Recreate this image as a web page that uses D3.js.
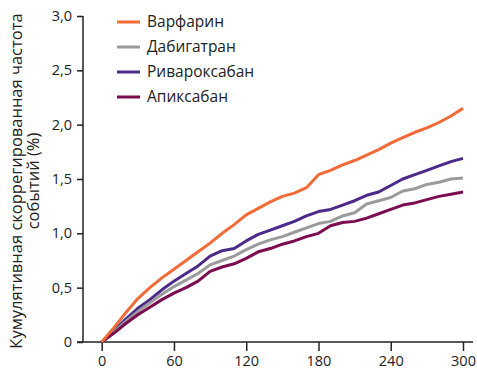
<!DOCTYPE html>
<html>
<head>
<meta charset="utf-8">
<script src="https://cdn.jsdelivr.net/npm/d3@7"></script>
<style>
  body { margin: 0; background: #fff; }
  svg text { font-family: "Open Sans", "Noto Sans", sans-serif; fill: #222; }
</style>
</head>
<body>
<div class="chart"></div>
<script>

// days, read every 10 days off the picture
const days = d3.range(0, 301, 10);

const warfarin = [0, 0.13, 0.27, 0.40, 0.50, 0.59, 0.67, 0.75, 0.83, 0.91, 1.00,
  1.08, 1.17, 1.23, 1.29, 1.34, 1.37, 1.42, 1.54, 1.58, 1.63,
  1.67, 1.72, 1.77, 1.83, 1.88, 1.93, 1.97, 2.02, 2.08, 2.15];
const dabigatran = [0, 0.09, 0.19, 0.28, 0.36, 0.44, 0.51, 0.57, 0.63, 0.71, 0.75,
  0.79, 0.85, 0.90, 0.94, 0.97, 1.01, 1.05, 1.09, 1.11, 1.16,
  1.19, 1.27, 1.30, 1.33, 1.39, 1.41, 1.45, 1.47, 1.50, 1.51];
const rivaroxaban = [0, 0.10, 0.21, 0.31, 0.39, 0.48, 0.56, 0.63, 0.70, 0.79, 0.84,
  0.86, 0.93, 0.99, 1.03, 1.07, 1.11, 1.16, 1.20, 1.22, 1.26,
  1.30, 1.35, 1.38, 1.44, 1.50, 1.54, 1.58, 1.62, 1.66, 1.69];
const apixaban = [0, 0.08, 0.17, 0.25, 0.32, 0.39, 0.45, 0.50, 0.56, 0.65, 0.69,
  0.72, 0.77, 0.83, 0.86, 0.90, 0.93, 0.97, 1.00, 1.07, 1.10,
  1.11, 1.14, 1.18, 1.22, 1.26, 1.28, 1.31, 1.34, 1.36, 1.38];

const names = ['Варфарин', 'Дабигатран', 'Ривароксабан', 'Апиксабан'];
const colors = ['#f26a36', '#9b9b9b', '#4b2a8a', '#7a0c4f'];
const seriesValues = [warfarin, dabigatran, rivaroxaban, apixaban];

const xTicks = [0, 60, 120, 180, 240, 300];
const yTicks = [0, 0.5, 1, 1.5, 2, 2.5, 3];

const width = 477, height = 375;

const svg = d3.select('.chart').append('svg')
    .attr('width', width)
    .attr('height', height);

const x = d3.scaleLinear().domain([0, 300]).range([101.7, 463]);
const y = d3.scaleLinear().domain([0, 3]).range([342, 16]);

const fmt = d => d === 0 ? '0' : d3.format('.1f')(d).replace('.', ',');

// y axis
const yAxis = svg.append('g')
    .attr('transform', 'translate(83,0)')
    .call(d3.axisLeft(y).tickValues(yTicks).tickFormat(fmt).tickSize(6).tickPadding(5).tickSizeOuter(0));
yAxis.select('.domain').remove();
yAxis.append('line')
    .attr('x1', 0).attr('x2', 0)
    .attr('y1', y(3)).attr('y2', y(0))
    .attr('stroke', '#222').attr('stroke-width', 1.5);
yAxis.selectAll('.tick line').attr('stroke', '#222').attr('stroke-width', 1.5);
yAxis.selectAll('.tick text').attr('font-size', 14.5);

// x axis
const xAxis = svg.append('g')
    .attr('transform', 'translate(0,342)')
    .call(d3.axisBottom(x).tickValues(xTicks).tickSize(9).tickPadding(5).tickSizeOuter(0));
xAxis.select('.domain').remove();
xAxis.append('line')
    .attr('x1', 77).attr('x2', 473)
    .attr('y1', 0).attr('y2', 0)
    .attr('stroke', '#222').attr('stroke-width', 1.5);
xAxis.selectAll('.tick line').attr('stroke', '#222').attr('stroke-width', 1.5);
xAxis.selectAll('.tick text').attr('font-size', 14.5);

// y label
const yLabel = svg.append('text')
    .attr('transform', 'translate(22,181) rotate(-90)')
    .attr('text-anchor', 'middle')
    .attr('font-size', 16.5);
yLabel.append('tspan').attr('x', 0).attr('dy', 0).text('Кумулятивная скоррегированная частота');
yLabel.append('tspan').attr('x', 0).attr('dy', 17).text('событий (%)');

// lines
const line = d3.line()
    .x((d, i) => x(days[i]))
    .y(d => y(d))
    .curve(d3.curveLinear);

const order = [2, 1, 3, 0];
svg.selectAll('path.series')
    .data(order)
    .enter()
    .append('path')
    .attr('class', 'series')
    .attr('d', i => line(seriesValues[i]))
    .attr('fill', 'none')
    .attr('stroke', i => colors[i])
    .attr('stroke-width', 3)
    .attr('stroke-linejoin', 'round');

// legend
const legend = svg.selectAll('g.legend')
    .data(names)
    .enter()
    .append('g')
    .attr('class', 'legend')
    .attr('transform', (d, i) => 'translate(117,' + (22 + i * 25) + ')');

legend.append('line')
    .attr('x1', 0).attr('x2', 23)
    .attr('stroke', (d, i) => colors[i])
    .attr('stroke-width', 3);

legend.append('text')
    .attr('x', 30)
    .attr('dy', '0.35em')
    .attr('font-size', 15.5)
    .text(d => d);

</script>
</body>
</html>
